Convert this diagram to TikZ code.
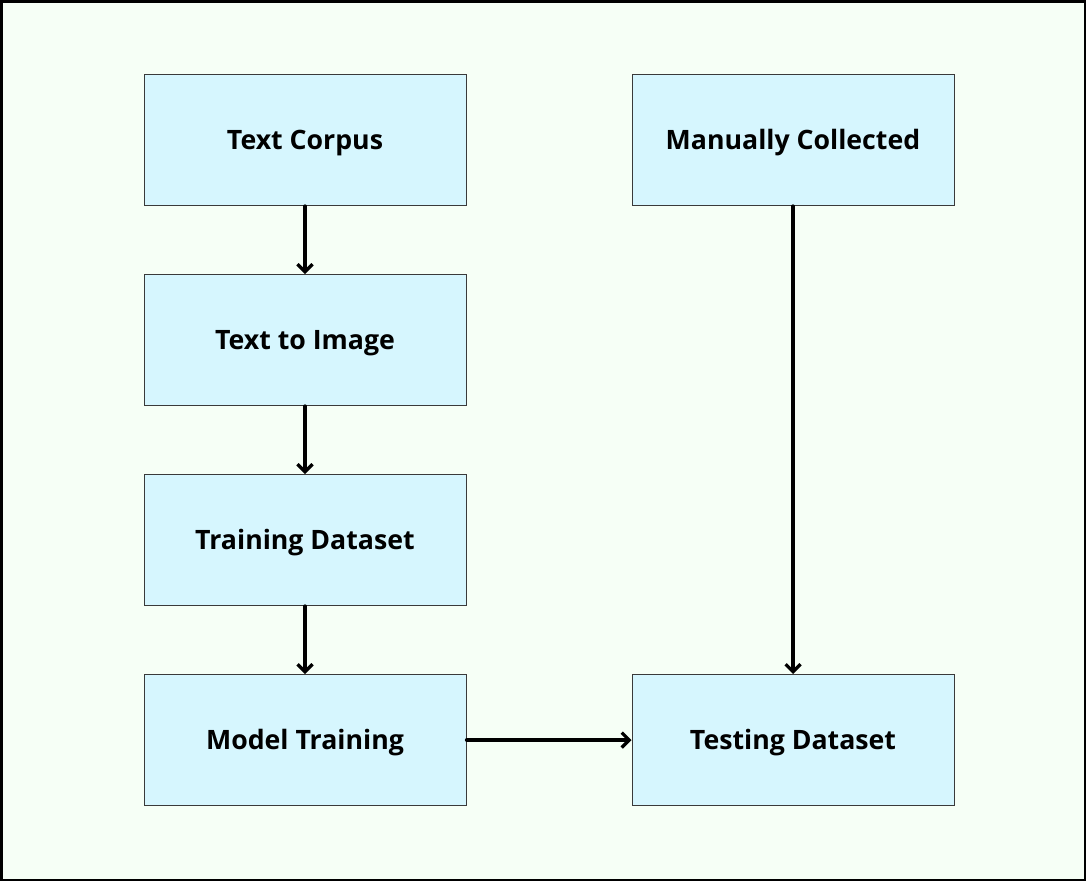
\documentclass[tikz,border=0pt]{standalone}
\usepackage{fontspec}
\setmainfont{Open Sans}
\usepackage{tikz}
\usetikzlibrary{arrows.meta}
\definecolor{bgmint}{HTML}{F6FFF6}
\definecolor{boxcyan}{HTML}{D6F6FE}
\definecolor{boxline}{HTML}{3A3A3A}

\begin{document}
\begin{tikzpicture}[x=1pt,y=-1pt,
  every node/.style={rectangle, draw=boxline, fill=boxcyan, line width=1pt, minimum width=322pt, minimum height=131pt, text height=19pt, text depth=0pt, font=\fontsize{26.7}{30}\selectfont\bfseries},
  flow/.style={line width=3.2pt, line cap=round, -{Straight Barb[length=7.5pt,width=15pt,line width=3.2pt]}}]
\draw[fill=bgmint, line width=2.5pt] (1.25,1.25) rectangle (1084.75,879.75);
\useasboundingbox (0,0) rectangle (1086,881);

\node (corpus) at (305,140) {Text Corpus};
\node (t2i) at (305,340) {Text to Image};
\node (train) at (305,540) {Training Dataset};
\node (model) at (305,740) {Model Training};
\node (manual) at (793,140) {Manually Collected};
\node (test) at (793,740) {Testing Dataset};

\draw[flow] (corpus) -- (t2i);
\draw[flow] (t2i) -- (train);
\draw[flow] (train) -- (model);
\draw[flow] (manual) -- (test);
\draw[flow] (model) -- (test);
\end{tikzpicture}
\end{document}
